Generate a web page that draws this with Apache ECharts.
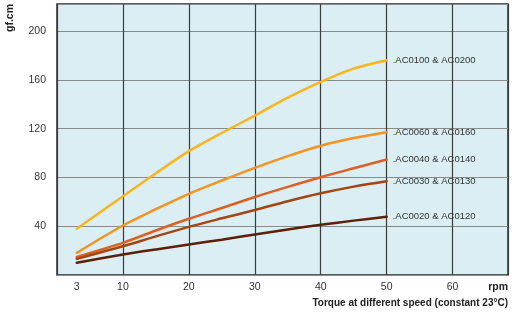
<!DOCTYPE html>
<html>
<head>
<meta charset="utf-8">
<style>
  html, body { margin: 0; padding: 0; background: #fff; }
  #chart { width: 517px; height: 315px; }
</style>
<script src="https://cdn.jsdelivr.net/npm/echarts@6/dist/echarts.min.js"></script>
</head>
<body>
<div id="chart"></div>
<script>
// speed (rpm) sample points
const rpm = [3, 10, 15, 20, 25, 30, 35, 40, 45, 50];
const xTicks = [3, 10, 20, 30, 40, 50, 60];
const yTicks = [40, 80, 120, 160, 200];

// torque (gf.cm) per motor pair
const ac0100 = [37.9, 64.6, 83.5, 101.6, 116.5, 130.8, 145.5, 158.5, 169.3, 176.2];
const ac0060 = [18.2, 40.6, 54, 66.6, 77.5, 87.9, 97.5, 106, 112.3, 117.1];
const ac0040 = [14.9, 26.4, 36.5, 46.1, 55, 64, 72.3, 80.2, 87.5, 94.7];
const ac0030 = [13.3, 23.6, 31.7, 39.5, 46.5, 53.3, 60.5, 67, 72.5, 76.9];
const ac0020 = [10, 16.8, 21, 25, 29, 33.2, 37.3, 41.2, 44.6, 47.7];

const names = ['.AC0100 & AC0200', '.AC0060 & AC0160', '.AC0040 & AC0140', '.AC0030 & AC0130', '.AC0020 & AC0120'];
const colors = ['#FBB419', '#F7921E', '#DE6020', '#A24512', '#5E1F07'];
const values = [ac0100, ac0060, ac0040, ac0030, ac0020];

const FONT = 'Liberation Sans, Arial, sans-serif';

const chart = echarts.init(document.getElementById('chart'), null, { renderer: 'canvas' });

const series = values.map((vals, i) => ({
  name: names[i],
  type: 'line',
  data: rpm.map((x, j) => [x, vals[j]]),
  smooth: 0.3,
  showSymbol: false,
  symbol: 'none',
  lineStyle: { color: colors[i], width: 2.5, cap: 'round' },
  itemStyle: { color: colors[i] },
  endLabel: {
    show: true,
    formatter: '{a}',
    distance: 6,
    color: '#333',
    fontFamily: FONT,
    fontSize: 9.5
  },
  z: 3 + i
}));

chart.setOption({
  animation: false,
  grid: {
    left: 57, right: 9, top: 4, bottom: 40,
    show: true,
    backgroundColor: '#DAEEF3',
    borderColor: '#2b2b2b',
    borderWidth: 1.5
  },
  xAxis: {
    type: 'value',
    min: 0, max: 68.4, interval: 10,
    axisLine: { show: false },
    axisTick: { show: false },
    splitLine: { show: true, lineStyle: { color: '#3c3c3c', width: 1.2 } },
    axisLabel: {
      customValues: xTicks,
      margin: 7,
      color: '#333',
      fontFamily: FONT,
      fontSize: 10.5
    }
  },
  yAxis: {
    type: 'value',
    min: 0, max: 222.3, interval: 40,
    axisLine: { show: false },
    axisTick: { show: false },
    splitLine: { show: true, lineStyle: { color: '#8a8a8a', width: 1.2 } },
    axisLabel: {
      customValues: yTicks,
      margin: 11,
      color: '#333',
      fontFamily: FONT,
      fontSize: 10.5
    }
  },
  graphic: [
    {
      type: 'text', x: 10, y: 18, rotation: Math.PI / 2,
      style: { text: 'gf.cm', fill: '#222', font: 'bold 10.5px ' + FONT, align: 'center', verticalAlign: 'middle' }
    },
    {
      type: 'text', x: 508, y: 287,
      style: { text: 'rpm', fill: '#222', font: 'bold 10.5px ' + FONT, align: 'right', verticalAlign: 'middle' }
    },
    {
      type: 'text', x: 508, y: 303,
      style: { text: 'Torque at different speed (constant 23°C)', fill: '#222', font: 'bold 10px ' + FONT, align: 'right', verticalAlign: 'middle' }
    }
  ],
  series: series
});
</script>
</body>
</html>
